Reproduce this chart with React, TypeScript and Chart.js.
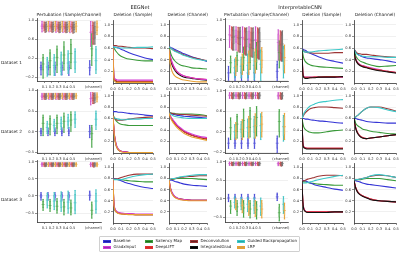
import React, { useEffect, useRef } from 'react';
import { Chart, registerables } from 'chart.js';

Chart.register(...registerables);

const FONT = "'DejaVu Sans', sans-serif";
Chart.defaults.font.family = FONT;

// ---------- categories / methods ----------
const METHODS = ['Baseline', 'GradxInput', 'Saliency Map', 'DeepLIFT', 'Deconvolution', 'IntegratedGrad', 'Guided Backpropagation', 'LRP'];
const LINE_COLORS = ['#3535d5', '#d23ad2', '#3a9a3a', '#e03030', '#9c3535', '#111111', '#3cc8c8', '#e8a030'];
const BOX_EDGE = ['#5050d8', '#cc55cc', '#4aa64a', '#dd5555', '#a05a5a', '#777777', '#44c4c4', '#e6a640'];
const BOX_FILL = ['rgba(170,170,240,0.3)', 'rgba(240,170,230,0.35)', 'rgba(175,225,175,0.35)', 'rgba(245,180,180,0.3)', 'rgba(210,170,170,0.25)', 'rgba(200,200,200,0.15)', 'rgba(175,235,235,0.4)', 'rgba(248,220,165,0.45)'];
const LEGEND_COLORS = ['#1c1ca8', '#9a2fb0', '#1e6e1e', '#d42a2a', '#6b1f1f', '#000000', '#25a5a5', '#caa050'];

const CAT_LABELS = ['0.1', '0.2', '0.3', '0.4', '0.5', '(channel)'];
const EEG_CAT_POS = [1, 2, 3, 4, 5, 8];
const ICNN_CAT_POS = [1, 2, 3, 4, 5, 8.5];

const DEL_X = [0, 0.01, 0.02, 0.04, 0.07, 0.1, 0.15, 0.2, 0.3, 0.4, 0.5];
const DEL_X_TICKS = [0, 0.1, 0.2, 0.3, 0.4, 0.5];
const DEL_Y_TICKS = [0.2, 0.4, 0.6, 0.8, 1.0];

// ---------- deletion curves (method x DEL_X) ----------
const EEG_DEL_SAMPLE_D1 = [
  [0.62, 0.62, 0.61, 0.61, 0.60, 0.58, 0.55, 0.52, 0.47, 0.43, 0.40],
  [0.62, 0.15, 0.08, 0.06, 0.05, 0.05, 0.05, 0.05, 0.05, 0.05, 0.05],
  [0.62, 0.60, 0.58, 0.54, 0.49, 0.46, 0.43, 0.41, 0.39, 0.38, 0.38],
  [0.62, 0.12, 0.06, 0.04, 0.03, 0.03, 0.03, 0.03, 0.03, 0.03, 0.03],
  [0.64, 0.64, 0.64, 0.64, 0.63, 0.63, 0.62, 0.61, 0.60, 0.60, 0.59],
  [0.62, 0.10, 0.05, 0.03, 0.02, 0.02, 0.02, 0.02, 0.02, 0.02, 0.02],
  [0.62, 0.62, 0.61, 0.61, 0.60, 0.60, 0.60, 0.60, 0.61, 0.61, 0.62],
  [0.60, 0.08, 0.03, 0.01, 0.01, 0.01, 0.01, 0.01, 0.01, 0.01, 0.01],
];
const EEG_DEL_CHANNEL_D1 = [
  [0.62, 0.62, 0.61, 0.60, 0.58, 0.56, 0.53, 0.50, 0.45, 0.41, 0.37],
  [0.60, 0.52, 0.45, 0.36, 0.27, 0.21, 0.15, 0.12, 0.09, 0.07, 0.06],
  [0.62, 0.58, 0.52, 0.45, 0.39, 0.35, 0.31, 0.29, 0.26, 0.25, 0.24],
  [0.60, 0.50, 0.43, 0.34, 0.26, 0.20, 0.15, 0.12, 0.09, 0.07, 0.06],
  [0.62, 0.61, 0.60, 0.58, 0.56, 0.54, 0.51, 0.48, 0.44, 0.41, 0.38],
  [0.60, 0.48, 0.40, 0.31, 0.23, 0.18, 0.13, 0.10, 0.08, 0.06, 0.05],
  [0.62, 0.61, 0.60, 0.58, 0.55, 0.53, 0.50, 0.47, 0.43, 0.40, 0.38],
  [0.58, 0.40, 0.30, 0.20, 0.13, 0.10, 0.07, 0.05, 0.03, 0.02, 0.02],
];
const ICNN_DEL_SAMPLE_D1 = [
  [0.58, 0.58, 0.57, 0.56, 0.53, 0.51, 0.48, 0.45, 0.40, 0.37, 0.34],
  [0.58, 0.20, 0.12, 0.10, 0.10, 0.10, 0.10, 0.10, 0.10, 0.10, 0.10],
  [0.58, 0.50, 0.43, 0.37, 0.33, 0.31, 0.29, 0.28, 0.27, 0.26, 0.25],
  [0.58, 0.18, 0.11, 0.09, 0.09, 0.09, 0.10, 0.10, 0.11, 0.11, 0.11],
  [0.58, 0.57, 0.55, 0.53, 0.52, 0.52, 0.51, 0.51, 0.51, 0.52, 0.52],
  [0.58, 0.16, 0.10, 0.08, 0.08, 0.09, 0.09, 0.10, 0.10, 0.10, 0.11],
  [0.58, 0.56, 0.54, 0.53, 0.53, 0.53, 0.54, 0.55, 0.56, 0.57, 0.58],
  [0.58, 0.18, 0.11, 0.10, 0.10, 0.10, 0.10, 0.10, 0.10, 0.10, 0.10],
];
const ICNN_DEL_CHANNEL_D1 = [
  [0.58, 0.56, 0.53, 0.50, 0.47, 0.45, 0.43, 0.42, 0.40, 0.38, 0.35],
  [0.58, 0.48, 0.42, 0.36, 0.32, 0.30, 0.28, 0.26, 0.23, 0.20, 0.18],
  [0.58, 0.52, 0.47, 0.42, 0.38, 0.36, 0.33, 0.31, 0.28, 0.29, 0.30],
  [0.58, 0.47, 0.41, 0.35, 0.31, 0.29, 0.27, 0.25, 0.22, 0.20, 0.18],
  [0.58, 0.56, 0.54, 0.51, 0.50, 0.49, 0.49, 0.48, 0.46, 0.45, 0.44],
  [0.58, 0.46, 0.40, 0.34, 0.30, 0.28, 0.26, 0.24, 0.21, 0.19, 0.17],
  [0.58, 0.55, 0.52, 0.49, 0.47, 0.46, 0.45, 0.45, 0.45, 0.44, 0.44],
  [0.58, 0.47, 0.41, 0.35, 0.31, 0.29, 0.27, 0.25, 0.22, 0.20, 0.18],
];
const EEG_DEL_SAMPLE_D2 = [
  [0.72, 0.72, 0.72, 0.72, 0.71, 0.71, 0.70, 0.69, 0.68, 0.66, 0.65],
  [0.65, 0.45, 0.30, 0.15, 0.06, 0.03, 0.02, 0.01, 0.01, 0.01, 0.01],
  [0.65, 0.63, 0.60, 0.56, 0.52, 0.50, 0.49, 0.48, 0.48, 0.48, 0.48],
  [0.65, 0.44, 0.29, 0.14, 0.06, 0.03, 0.02, 0.01, 0.01, 0.01, 0.01],
  [0.65, 0.63, 0.61, 0.58, 0.57, 0.57, 0.58, 0.59, 0.61, 0.62, 0.63],
  [0.65, 0.43, 0.28, 0.13, 0.05, 0.03, 0.02, 0.01, 0.01, 0.01, 0.01],
  [0.63, 0.62, 0.61, 0.60, 0.59, 0.58, 0.58, 0.59, 0.59, 0.60, 0.60],
  [0.65, 0.42, 0.27, 0.12, 0.05, 0.02, 0.01, 0.01, 0.01, 0.01, 0.01],
];
const EEG_DEL_CHANNEL_D2 = [
  [0.70, 0.70, 0.69, 0.68, 0.67, 0.66, 0.65, 0.64, 0.63, 0.62, 0.61],
  [0.70, 0.67, 0.64, 0.60, 0.55, 0.50, 0.44, 0.39, 0.33, 0.29, 0.27],
  [0.70, 0.70, 0.70, 0.69, 0.69, 0.68, 0.68, 0.68, 0.68, 0.67, 0.65],
  [0.70, 0.66, 0.63, 0.59, 0.53, 0.48, 0.42, 0.37, 0.31, 0.27, 0.25],
  [0.70, 0.70, 0.69, 0.69, 0.68, 0.68, 0.67, 0.67, 0.66, 0.65, 0.64],
  [0.70, 0.66, 0.63, 0.58, 0.53, 0.48, 0.42, 0.37, 0.31, 0.27, 0.24],
  [0.70, 0.69, 0.68, 0.66, 0.64, 0.63, 0.62, 0.61, 0.60, 0.60, 0.60],
  [0.70, 0.65, 0.61, 0.56, 0.50, 0.45, 0.39, 0.34, 0.28, 0.25, 0.22],
];
const ICNN_DEL_SAMPLE_D2 = [
  [0.60, 0.60, 0.60, 0.59, 0.59, 0.58, 0.57, 0.56, 0.55, 0.53, 0.52],
  [0.60, 0.20, 0.12, 0.09, 0.08, 0.08, 0.08, 0.08, 0.08, 0.08, 0.08],
  [0.60, 0.52, 0.46, 0.41, 0.38, 0.36, 0.35, 0.35, 0.37, 0.39, 0.40],
  [0.60, 0.18, 0.11, 0.09, 0.08, 0.08, 0.08, 0.08, 0.08, 0.08, 0.08],
  [0.60, 0.63, 0.66, 0.70, 0.74, 0.77, 0.79, 0.80, 0.80, 0.79, 0.78],
  [0.60, 0.17, 0.10, 0.08, 0.07, 0.07, 0.07, 0.07, 0.07, 0.07, 0.07],
  [0.60, 0.64, 0.68, 0.73, 0.78, 0.82, 0.85, 0.88, 0.90, 0.92, 0.93],
  [0.60, 0.18, 0.11, 0.09, 0.08, 0.08, 0.08, 0.08, 0.08, 0.08, 0.08],
];
const ICNN_DEL_CHANNEL_D2 = [
  [0.62, 0.61, 0.60, 0.59, 0.58, 0.57, 0.55, 0.54, 0.53, 0.52, 0.52],
  [0.62, 0.52, 0.44, 0.36, 0.30, 0.27, 0.25, 0.26, 0.28, 0.30, 0.32],
  [0.62, 0.57, 0.52, 0.48, 0.45, 0.42, 0.40, 0.38, 0.36, 0.34, 0.33],
  [0.62, 0.52, 0.44, 0.36, 0.30, 0.27, 0.25, 0.26, 0.28, 0.30, 0.32],
  [0.62, 0.62, 0.63, 0.65, 0.69, 0.73, 0.78, 0.80, 0.80, 0.77, 0.73],
  [0.62, 0.51, 0.43, 0.35, 0.29, 0.26, 0.25, 0.26, 0.28, 0.30, 0.32],
  [0.62, 0.62, 0.63, 0.65, 0.69, 0.73, 0.78, 0.80, 0.79, 0.75, 0.72],
  [0.62, 0.52, 0.44, 0.36, 0.30, 0.27, 0.25, 0.26, 0.28, 0.30, 0.32],
];
const EEG_DEL_SAMPLE_D3 = [
  [0.80, 0.80, 0.79, 0.79, 0.78, 0.76, 0.73, 0.71, 0.67, 0.64, 0.62],
  [0.80, 0.40, 0.28, 0.22, 0.19, 0.18, 0.17, 0.17, 0.16, 0.16, 0.16],
  [0.80, 0.80, 0.79, 0.79, 0.78, 0.78, 0.77, 0.76, 0.75, 0.74, 0.74],
  [0.80, 0.38, 0.27, 0.21, 0.18, 0.17, 0.16, 0.16, 0.15, 0.15, 0.15],
  [0.78, 0.78, 0.79, 0.79, 0.80, 0.82, 0.84, 0.86, 0.88, 0.88, 0.88],
  [0.80, 0.37, 0.26, 0.20, 0.18, 0.17, 0.16, 0.16, 0.15, 0.15, 0.15],
  [0.78, 0.78, 0.78, 0.78, 0.78, 0.78, 0.80, 0.82, 0.85, 0.87, 0.88],
  [0.80, 0.36, 0.25, 0.20, 0.17, 0.16, 0.16, 0.15, 0.15, 0.15, 0.15],
];
const EEG_DEL_CHANNEL_D3 = [
  [0.78, 0.78, 0.77, 0.77, 0.75, 0.74, 0.72, 0.70, 0.68, 0.67, 0.66],
  [0.78, 0.70, 0.63, 0.55, 0.49, 0.46, 0.43, 0.42, 0.41, 0.41, 0.41],
  [0.78, 0.78, 0.78, 0.79, 0.79, 0.80, 0.80, 0.80, 0.80, 0.79, 0.78],
  [0.78, 0.70, 0.62, 0.54, 0.48, 0.45, 0.43, 0.42, 0.41, 0.41, 0.41],
  [0.78, 0.78, 0.79, 0.79, 0.80, 0.81, 0.82, 0.83, 0.84, 0.85, 0.85],
  [0.78, 0.69, 0.62, 0.54, 0.48, 0.45, 0.43, 0.42, 0.41, 0.41, 0.41],
  [0.78, 0.78, 0.79, 0.80, 0.80, 0.81, 0.83, 0.84, 0.86, 0.87, 0.87],
  [0.78, 0.68, 0.60, 0.52, 0.47, 0.44, 0.42, 0.41, 0.40, 0.40, 0.40],
];
const ICNN_DEL_SAMPLE_D3 = [
  [0.77, 0.77, 0.76, 0.76, 0.74, 0.72, 0.69, 0.67, 0.64, 0.61, 0.59],
  [0.75, 0.40, 0.28, 0.22, 0.20, 0.20, 0.20, 0.20, 0.20, 0.20, 0.20],
  [0.75, 0.75, 0.74, 0.74, 0.73, 0.72, 0.71, 0.70, 0.69, 0.68, 0.68],
  [0.75, 0.39, 0.27, 0.21, 0.20, 0.20, 0.20, 0.20, 0.20, 0.20, 0.20],
  [0.75, 0.76, 0.76, 0.77, 0.79, 0.80, 0.82, 0.84, 0.86, 0.86, 0.85],
  [0.75, 0.38, 0.26, 0.21, 0.19, 0.19, 0.19, 0.19, 0.19, 0.20, 0.20],
  [0.72, 0.72, 0.72, 0.72, 0.73, 0.74, 0.76, 0.78, 0.81, 0.84, 0.86],
  [0.75, 0.39, 0.27, 0.21, 0.20, 0.20, 0.20, 0.20, 0.20, 0.20, 0.20],
];
const ICNN_DEL_CHANNEL_D3 = [
  [0.77, 0.77, 0.76, 0.75, 0.74, 0.72, 0.70, 0.69, 0.67, 0.65, 0.63],
  [0.77, 0.70, 0.64, 0.57, 0.52, 0.49, 0.46, 0.43, 0.40, 0.39, 0.38],
  [0.77, 0.77, 0.77, 0.78, 0.78, 0.79, 0.80, 0.80, 0.80, 0.78, 0.76],
  [0.77, 0.70, 0.64, 0.57, 0.52, 0.49, 0.46, 0.43, 0.40, 0.39, 0.38],
  [0.77, 0.77, 0.78, 0.78, 0.79, 0.80, 0.82, 0.84, 0.86, 0.85, 0.82],
  [0.77, 0.69, 0.63, 0.56, 0.51, 0.48, 0.45, 0.42, 0.40, 0.39, 0.38],
  [0.77, 0.77, 0.78, 0.78, 0.79, 0.80, 0.82, 0.85, 0.87, 0.85, 0.82],
  [0.77, 0.70, 0.64, 0.57, 0.52, 0.49, 0.46, 0.43, 0.40, 0.39, 0.38],
];

// ---------- perturbation box stats: method x category x [lo, q1, median, q3, hi] ----------
const EEG_BOX_D1 = [
  [[-0.15, -0.05, 0, 0.05, 0.12], [-0.15, -0.05, 0, 0.05, 0.12], [-0.16, -0.05, 0, 0.05, 0.12], [-0.15, -0.06, 0, 0.05, 0.12], [-0.16, -0.05, 0, 0.06, 0.13], [-0.15, -0.06, 0, 0.08, 0.15]],
  [[0.76, 0.82, 0.88, 0.93, 0.98], [0.76, 0.82, 0.88, 0.93, 0.98], [0.75, 0.81, 0.87, 0.93, 0.98], [0.75, 0.81, 0.87, 0.93, 0.98], [0.74, 0.8, 0.87, 0.93, 0.98], [0.45, 0.6, 0.75, 0.9, 0.98]],
  [[-0.22, -0.05, 0.08, 0.22, 0.28], [-0.15, 0, 0.15, 0.32, 0.38], [-0.1, 0.05, 0.22, 0.4, 0.46], [-0.05, 0.08, 0.27, 0.45, 0.55], [-0.02, 0.1, 0.3, 0.5, 0.6], [0.05, 0.25, 0.4, 0.55, 0.72]],
  [[0.78, 0.83, 0.88, 0.93, 0.97], [0.77, 0.83, 0.88, 0.93, 0.97], [0.77, 0.82, 0.88, 0.93, 0.97], [0.76, 0.82, 0.87, 0.93, 0.97], [0.76, 0.82, 0.87, 0.93, 0.97], [0.5, 0.62, 0.76, 0.9, 0.97]],
  [[0.75, 0.8, 0.86, 0.91, 0.96], [0.75, 0.8, 0.86, 0.91, 0.96], [0.74, 0.8, 0.85, 0.91, 0.96], [0.74, 0.79, 0.85, 0.91, 0.96], [0.73, 0.79, 0.85, 0.91, 0.96], [0.5, 0.6, 0.72, 0.85, 0.95]],
  [[0.76, 0.81, 0.87, 0.92, 0.97], [0.76, 0.81, 0.87, 0.92, 0.97], [0.75, 0.81, 0.86, 0.92, 0.97], [0.75, 0.8, 0.86, 0.92, 0.97], [0.74, 0.8, 0.86, 0.92, 0.97], [0.5, 0.62, 0.75, 0.88, 0.97]],
  [[-0.18, -0.12, 0.02, 0.18, 0.22], [-0.16, -0.1, 0.05, 0.22, 0.28], [-0.15, -0.08, 0.08, 0.28, 0.33], [-0.12, -0.05, 0.1, 0.3, 0.36], [-0.1, -0.03, 0.12, 0.35, 0.4], [-0.12, -0.05, 0.15, 0.4, 0.45]],
  [[0.78, 0.82, 0.88, 0.94, 0.98], [0.78, 0.82, 0.88, 0.94, 0.98], [0.77, 0.82, 0.88, 0.94, 0.98], [0.77, 0.82, 0.88, 0.94, 0.98], [0.76, 0.81, 0.88, 0.94, 0.98], [0.7, 0.78, 0.86, 0.95, 0.99]],
];
const ICNN_BOX_D1 = [
  [[-0.2, -0.14, -0.05, 0.03, 0.08], [-0.2, -0.14, -0.05, 0.03, 0.08], [-0.2, -0.15, -0.05, 0.04, 0.09], [-0.2, -0.15, -0.05, 0.04, 0.09], [-0.2, -0.15, -0.05, 0.05, 0.1], [-0.2, -0.15, -0.02, 0.12, 0.18]],
  [[0.45, 0.58, 0.7, 0.82, 0.88], [0.4, 0.55, 0.68, 0.8, 0.86], [0.35, 0.5, 0.65, 0.8, 0.86], [0.3, 0.45, 0.62, 0.78, 0.86], [0.25, 0.42, 0.6, 0.78, 0.86], [0.2, 0.38, 0.55, 0.72, 0.8]],
  [[-0.05, 0.05, 0.15, 0.24, 0.28], [-0.02, 0.1, 0.2, 0.3, 0.36], [0, 0.12, 0.25, 0.4, 0.46], [0.02, 0.15, 0.28, 0.45, 0.52], [0.02, 0.15, 0.3, 0.48, 0.55], [0.05, 0.2, 0.35, 0.5, 0.58]],
  [[0.42, 0.55, 0.68, 0.8, 0.86], [0.38, 0.52, 0.65, 0.78, 0.85], [0.32, 0.48, 0.62, 0.77, 0.84], [0.28, 0.44, 0.6, 0.76, 0.84], [0.24, 0.4, 0.58, 0.75, 0.84], [0.2, 0.35, 0.52, 0.7, 0.78]],
  [[0.4, 0.52, 0.65, 0.78, 0.85], [0.36, 0.5, 0.63, 0.76, 0.84], [0.3, 0.46, 0.6, 0.75, 0.83], [0.26, 0.42, 0.58, 0.74, 0.83], [0.22, 0.38, 0.56, 0.73, 0.82], [0.18, 0.33, 0.5, 0.68, 0.76]],
  [[0.4, 0.52, 0.66, 0.8, 0.86], [0.36, 0.5, 0.64, 0.78, 0.85], [0.3, 0.46, 0.61, 0.77, 0.84], [0.26, 0.42, 0.59, 0.76, 0.84], [0.22, 0.38, 0.57, 0.75, 0.84], [0.18, 0.34, 0.52, 0.7, 0.78]],
  [[-0.15, -0.05, 0.05, 0.18, 0.22], [-0.15, -0.05, 0.08, 0.22, 0.26], [-0.15, -0.05, 0.1, 0.28, 0.32], [-0.18, -0.05, 0.1, 0.3, 0.36], [-0.2, -0.05, 0.12, 0.35, 0.4], [-0.15, 0, 0.18, 0.42, 0.48]],
  [[-0.1, 0, 0.08, 0.18, 0.25], [-0.08, 0.02, 0.12, 0.25, 0.32], [-0.08, 0.02, 0.15, 0.3, 0.38], [-0.05, 0.05, 0.18, 0.35, 0.42], [-0.05, 0.05, 0.2, 0.38, 0.45], [-0.05, 0.1, 0.25, 0.42, 0.5]],
];
const EEG_BOX_D2 = [
  [[-0.1, -0.05, 0, 0.04, 0.08], [-0.1, -0.05, 0, 0.04, 0.08], [-0.1, -0.05, 0, 0.05, 0.09], [-0.1, -0.05, 0, 0.05, 0.09], [-0.1, -0.05, 0.01, 0.05, 0.1], [-0.15, -0.08, 0, 0.1, 0.15]],
  [[0.78, 0.82, 0.86, 0.9, 0.93], [0.78, 0.82, 0.86, 0.9, 0.93], [0.78, 0.82, 0.86, 0.9, 0.93], [0.78, 0.82, 0.86, 0.9, 0.93], [0.78, 0.82, 0.86, 0.9, 0.93], [0.65, 0.72, 0.8, 0.9, 0.95]],
  [[-0.1, 0.05, 0.2, 0.35, 0.4], [-0.08, 0.05, 0.18, 0.32, 0.38], [-0.05, 0.08, 0.2, 0.35, 0.4], [-0.02, 0.1, 0.25, 0.38, 0.45], [0, 0.15, 0.28, 0.42, 0.48], [-0.38, -0.2, -0.05, 0.1, 0.15]],
  [[0.79, 0.83, 0.86, 0.9, 0.93], [0.79, 0.83, 0.86, 0.9, 0.93], [0.79, 0.83, 0.86, 0.9, 0.93], [0.79, 0.83, 0.86, 0.9, 0.93], [0.79, 0.83, 0.86, 0.9, 0.93], [0.68, 0.75, 0.82, 0.9, 0.95]],
  [[0.78, 0.82, 0.86, 0.89, 0.92], [0.78, 0.82, 0.86, 0.89, 0.92], [0.78, 0.82, 0.86, 0.89, 0.92], [0.78, 0.82, 0.86, 0.89, 0.92], [0.78, 0.82, 0.86, 0.89, 0.92], [0.68, 0.74, 0.8, 0.88, 0.93]],
  [[0.79, 0.83, 0.86, 0.9, 0.93], [0.79, 0.83, 0.86, 0.9, 0.93], [0.79, 0.83, 0.86, 0.9, 0.93], [0.79, 0.83, 0.86, 0.9, 0.93], [0.79, 0.83, 0.86, 0.9, 0.93], [0.7, 0.76, 0.82, 0.9, 0.94]],
  [[-0.05, 0.02, 0.1, 0.2, 0.25], [0, 0.08, 0.15, 0.25, 0.3], [0.05, 0.12, 0.2, 0.3, 0.35], [0.08, 0.15, 0.25, 0.35, 0.42], [0.1, 0.2, 0.3, 0.42, 0.48], [0.05, 0.15, 0.3, 0.45, 0.5]],
  [[0.8, 0.83, 0.87, 0.9, 0.93], [0.8, 0.83, 0.87, 0.9, 0.93], [0.8, 0.83, 0.87, 0.9, 0.93], [0.8, 0.83, 0.87, 0.9, 0.93], [0.8, 0.83, 0.87, 0.9, 0.93], [0.72, 0.78, 0.84, 0.9, 0.94]],
];
const ICNN_BOX_D2 = [
  [[-0.12, -0.08, -0.02, 0.05, 0.08], [-0.12, -0.08, -0.02, 0.05, 0.08], [-0.12, -0.08, -0.02, 0.05, 0.08], [-0.12, -0.08, -0.02, 0.05, 0.08], [-0.12, -0.08, -0.02, 0.05, 0.08], [-0.2, -0.12, -0.02, 0.08, 0.12]],
  [[0.85, 0.88, 0.91, 0.94, 0.96], [0.85, 0.88, 0.91, 0.94, 0.96], [0.85, 0.88, 0.91, 0.94, 0.96], [0.85, 0.88, 0.91, 0.94, 0.96], [0.85, 0.88, 0.91, 0.94, 0.96], [0.84, 0.87, 0.9, 0.94, 0.96]],
  [[0.05, 0.15, 0.28, 0.42, 0.47], [0.08, 0.2, 0.35, 0.5, 0.54], [0.1, 0.25, 0.42, 0.6, 0.64], [0.1, 0.28, 0.45, 0.62, 0.67], [0.12, 0.3, 0.48, 0.65, 0.69], [0.1, 0.2, 0.4, 0.6, 0.63]],
  [[0.85, 0.88, 0.91, 0.94, 0.96], [0.85, 0.88, 0.91, 0.94, 0.96], [0.85, 0.88, 0.91, 0.94, 0.96], [0.85, 0.88, 0.91, 0.94, 0.96], [0.85, 0.88, 0.91, 0.94, 0.96], [0.84, 0.87, 0.9, 0.94, 0.96]],
  [[0.84, 0.87, 0.9, 0.93, 0.95], [0.84, 0.87, 0.9, 0.93, 0.95], [0.84, 0.87, 0.9, 0.93, 0.95], [0.84, 0.87, 0.9, 0.93, 0.95], [0.84, 0.87, 0.9, 0.93, 0.95], [0.83, 0.86, 0.9, 0.93, 0.95]],
  [[0.85, 0.88, 0.91, 0.94, 0.96], [0.85, 0.88, 0.91, 0.94, 0.96], [0.85, 0.88, 0.91, 0.94, 0.96], [0.85, 0.88, 0.91, 0.94, 0.96], [0.85, 0.88, 0.91, 0.94, 0.96], [0.84, 0.87, 0.9, 0.94, 0.96]],
  [[0.08, 0.14, 0.2, 0.3, 0.34], [0.1, 0.18, 0.25, 0.35, 0.4], [0.1, 0.18, 0.28, 0.4, 0.45], [0.08, 0.18, 0.3, 0.45, 0.5], [0.05, 0.18, 0.32, 0.5, 0.55], [0.02, 0.12, 0.3, 0.48, 0.52]],
  [[0.05, 0.12, 0.22, 0.32, 0.38], [0.05, 0.15, 0.25, 0.38, 0.44], [0.08, 0.18, 0.3, 0.45, 0.5], [0.08, 0.2, 0.32, 0.48, 0.55], [0.1, 0.2, 0.35, 0.5, 0.58], [0.05, 0.15, 0.3, 0.5, 0.56]],
];
const EEG_BOX_D3 = [
  [[-0.12, -0.06, 0, 0.06, 0.1], [-0.12, -0.06, 0, 0.06, 0.1], [-0.12, -0.06, 0, 0.06, 0.1], [-0.12, -0.06, 0, 0.06, 0.1], [-0.12, -0.06, 0, 0.06, 0.1], [-0.12, -0.05, 0.02, 0.1, 0.14]],
  [[0.86, 0.89, 0.92, 0.95, 0.97], [0.86, 0.89, 0.92, 0.95, 0.97], [0.86, 0.89, 0.92, 0.95, 0.97], [0.86, 0.89, 0.92, 0.95, 0.97], [0.86, 0.89, 0.92, 0.95, 0.97], [0.85, 0.88, 0.92, 0.95, 0.97]],
  [[-0.42, -0.35, -0.25, -0.15, -0.1], [-0.45, -0.38, -0.28, -0.15, -0.1], [-0.5, -0.42, -0.3, -0.15, -0.08], [-0.55, -0.45, -0.32, -0.18, -0.1], [-0.55, -0.48, -0.35, -0.2, -0.12], [-0.65, -0.55, -0.42, -0.25, -0.18]],
  [[0.86, 0.89, 0.92, 0.95, 0.97], [0.86, 0.89, 0.92, 0.95, 0.97], [0.86, 0.89, 0.92, 0.95, 0.97], [0.86, 0.89, 0.92, 0.95, 0.97], [0.86, 0.89, 0.92, 0.95, 0.97], [0.85, 0.88, 0.92, 0.95, 0.97]],
  [[0.85, 0.88, 0.91, 0.94, 0.96], [0.85, 0.88, 0.91, 0.94, 0.96], [0.85, 0.88, 0.91, 0.94, 0.96], [0.85, 0.88, 0.91, 0.94, 0.96], [0.85, 0.88, 0.91, 0.94, 0.96], [0.84, 0.87, 0.91, 0.94, 0.96]],
  [[0.86, 0.89, 0.92, 0.95, 0.97], [0.86, 0.89, 0.92, 0.95, 0.97], [0.86, 0.89, 0.92, 0.95, 0.97], [0.86, 0.89, 0.92, 0.95, 0.97], [0.86, 0.89, 0.92, 0.95, 0.97], [0.85, 0.88, 0.92, 0.95, 0.97]],
  [[-0.35, -0.28, -0.12, 0.02, 0.08], [-0.4, -0.32, -0.15, 0.02, 0.1], [-0.45, -0.35, -0.15, 0.03, 0.12], [-0.5, -0.38, -0.18, 0.03, 0.14], [-0.52, -0.42, -0.2, 0.05, 0.16], [-0.5, -0.4, -0.15, 0.08, 0.18]],
  [[0.86, 0.89, 0.92, 0.95, 0.97], [0.86, 0.89, 0.92, 0.95, 0.97], [0.86, 0.89, 0.92, 0.95, 0.97], [0.86, 0.89, 0.92, 0.95, 0.97], [0.86, 0.89, 0.92, 0.95, 0.97], [0.85, 0.88, 0.92, 0.95, 0.97]],
];
const ICNN_BOX_D3 = [
  [[-0.08, -0.03, 0.02, 0.08, 0.12], [-0.08, -0.03, 0.02, 0.08, 0.12], [-0.08, -0.03, 0.02, 0.08, 0.12], [-0.08, -0.03, 0.02, 0.08, 0.12], [-0.08, -0.03, 0.02, 0.08, 0.12], [-0.05, 0, 0.05, 0.12, 0.15]],
  [[0.9, 0.93, 0.95, 0.97, 0.99], [0.9, 0.93, 0.95, 0.97, 0.99], [0.9, 0.93, 0.95, 0.97, 0.99], [0.9, 0.93, 0.95, 0.97, 0.99], [0.9, 0.93, 0.95, 0.97, 0.99], [0.89, 0.92, 0.95, 0.97, 0.99]],
  [[-0.4, -0.3, -0.2, -0.1, -0.05], [-0.45, -0.35, -0.22, -0.12, -0.05], [-0.5, -0.4, -0.25, -0.12, -0.05], [-0.52, -0.42, -0.28, -0.12, -0.05], [-0.55, -0.45, -0.3, -0.15, -0.08], [-0.6, -0.5, -0.38, -0.22, -0.15]],
  [[0.9, 0.93, 0.95, 0.97, 0.99], [0.9, 0.93, 0.95, 0.97, 0.99], [0.9, 0.93, 0.95, 0.97, 0.99], [0.9, 0.93, 0.95, 0.97, 0.99], [0.9, 0.93, 0.95, 0.97, 0.99], [0.89, 0.92, 0.95, 0.97, 0.99]],
  [[0.89, 0.92, 0.94, 0.96, 0.98], [0.89, 0.92, 0.94, 0.96, 0.98], [0.89, 0.92, 0.94, 0.96, 0.98], [0.89, 0.92, 0.94, 0.96, 0.98], [0.89, 0.92, 0.94, 0.96, 0.98], [0.88, 0.91, 0.94, 0.96, 0.98]],
  [[0.9, 0.93, 0.95, 0.97, 0.99], [0.9, 0.93, 0.95, 0.97, 0.99], [0.9, 0.93, 0.95, 0.97, 0.99], [0.9, 0.93, 0.95, 0.97, 0.99], [0.9, 0.93, 0.95, 0.97, 0.99], [0.89, 0.92, 0.95, 0.97, 0.99]],
  [[-0.25, -0.18, -0.1, 0, 0.05], [-0.3, -0.22, -0.12, -0.02, 0.03], [-0.35, -0.28, -0.15, -0.03, 0.03], [-0.4, -0.32, -0.18, -0.05, 0.02], [-0.45, -0.38, -0.2, -0.05, 0.02], [-0.4, -0.32, -0.15, 0, 0.06]],
  [[-0.3, -0.22, -0.15, -0.05, 0], [-0.38, -0.28, -0.18, -0.08, -0.02], [-0.45, -0.35, -0.22, -0.1, -0.05], [-0.48, -0.38, -0.25, -0.12, -0.05], [-0.52, -0.42, -0.28, -0.12, -0.05], [-0.55, -0.45, -0.32, -0.2, -0.12]],
];

// ---------- layout constants ----------
const AXW = 14;
const AXH = 9;
const PADT = 4;
const PADR = 5;
const TICK_FONT = { family: FONT, size: 3.6 };
const COLS = [[37, 101], [113, 153], [169, 206.5], [225, 288], [301.5, 342], [354, 396]];
const ROW_BOX = [[18, 81], [89, 153], [160, 222]];
const ROW_DEL = [[20, 82.5], [91, 152.5], [163, 222.5]];
const EEG_BOX_RANGE = [[-0.28, 1.04], [-0.52, 1.02], [-0.76, 1.03]];
const ICNN_BOX_RANGE = [[-0.21, 1.02], [-0.21, 1.02], [-0.63, 1.03]];
const EEG_BOX_YTICKS = [[-0.2, 0.2, 0.6, 1.0], [-0.5, 0, 0.5, 1.0], [-0.5, 0, 0.5, 1.0]];
const ICNN_BOX_YTICKS = [[-0.2, 0.2, 0.6, 1.0], [-0.2, 0.2, 0.6, 1.0], [-0.5, 0, 0.5, 1.0]];
const EEG_Z = [5, 3, 4, 2, 6, 1, 7, 8];
const ICNN_Z = [5, 2, 4, 3, 6, 8, 7, 1];

function fmt(v: number) {
  const s = Math.abs(v).toFixed(1);
  return v < -1e-9 ? '\u2212' + s : s;
}

function yScale(min: number, max: number, ticks: number[]) {
  return {
    type: 'linear', min, max,
    afterBuildTicks: (s: any) => { s.ticks = ticks.map((v) => ({ value: v })); },
    afterFit: (s: any) => { s.width = AXW; },
    ticks: { font: TICK_FONT, color: '#333', padding: 1, autoSkip: false, callback: (v: any) => fmt(Number(v)) },
    grid: { color: '#e6e6e6', lineWidth: 0.6, tickLength: 2, tickColor: '#444', tickWidth: 0.6 },
    border: { display: true, color: '#333', width: 0.8 },
  };
}

function xScale(min: number, max: number, ticks: number[], labels?: string[]) {
  return {
    type: 'linear', min, max, offset: false,
    afterBuildTicks: (s: any) => { s.ticks = ticks.map((v) => ({ value: v })); },
    afterFit: (s: any) => { s.height = AXH; },
    ticks: {
      font: TICK_FONT, color: '#333', padding: 1.5, autoSkip: false, maxRotation: 0, minRotation: 0,
      callback: (v: any, i: number) => (labels ? labels[i] : fmt(Number(v))),
    },
    grid: { display: true, drawOnChartArea: false, offset: false, tickLength: 2, color: '#444', tickColor: '#444', lineWidth: 0.6 },
    border: { display: true, color: '#333', width: 0.8 },
  };
}

function baseOptions() {
  return {
    responsive: false,
    maintainAspectRatio: false,
    animation: false,
    devicePixelRatio: 1,
    events: [],
    layout: { padding: { top: PADT, right: PADR, left: 0, bottom: 0 } },
    plugins: { legend: { display: false }, tooltip: { enabled: false }, title: { display: false } },
  };
}

function lineConfig(series: number[][], z: number[]) {
  return {
    type: 'line',
    data: {
      datasets: series.map((ys, i) => ({
        label: METHODS[i],
        data: DEL_X.map((x, k) => ({ x, y: ys[k] })),
        borderColor: LINE_COLORS[i],
        backgroundColor: LINE_COLORS[i],
        borderWidth: 1.1,
        pointRadius: 0,
        fill: false,
        cubicInterpolationMode: 'monotone',
        order: 10 - z[i],
      })),
    },
    options: {
      ...baseOptions(),
      scales: { x: xScale(0, 0.5, DEL_X_TICKS), y: yScale(0, 1.08, DEL_Y_TICKS) },
    },
  };
}

function boxConfig(data: number[][][], pos: number[], xMin: number, xMax: number, step: number, yr: number[], yt: number[]) {
  const datasets: any[] = [];
  const scales: any = {
    x: xScale(xMin, xMax, pos, CAT_LABELS),
    y: yScale(yr[0], yr[1], yt),
  };
  data.forEach((method, i) => {
    const off = (i - 3.5) * step;
    const axisId = 'xm' + i;
    scales[axisId] = {
      type: 'linear', display: false, min: xMin, max: xMax, offset: false,
      afterBuildTicks: (s: any) => { s.ticks = pos.map((v) => ({ value: v })); },
    };
    const base = (8 - i) * 4;
    datasets.push({
      type: 'bar', xAxisID: axisId, yAxisID: 'y',
      data: method.map((s, j) => ({ x: pos[j] + off, y: [s[0], s[4]] })),
      backgroundColor: BOX_EDGE[i], borderWidth: 0, grouped: false, barThickness: 1, maxBarThickness: 0.5,
      order: base + 2,
    });
    datasets.push({
      type: 'bar', xAxisID: axisId, yAxisID: 'y',
      data: method.map((s, j) => ({ x: pos[j] + off, y: [s[1], s[3]] })),
      backgroundColor: BOX_FILL[i], borderColor: BOX_EDGE[i], borderWidth: 0.5, borderSkipped: false,
      grouped: false, barThickness: 1, maxBarThickness: 3,
      order: base + 1,
    });
    datasets.push({
      type: 'scatter', xAxisID: 'x', yAxisID: 'y',
      data: method.map((s, j) => ({ x: pos[j] + off, y: s[2] })),
      pointStyle: 'line', pointRadius: 1.5, pointBorderColor: BOX_EDGE[i], pointBorderWidth: 0.6,
      order: base,
    });
    datasets.push({
      type: 'scatter', xAxisID: 'x', yAxisID: 'y',
      data: method.flatMap((s, j) => [{ x: pos[j] + off, y: s[0] }, { x: pos[j] + off, y: s[4] }]),
      pointStyle: 'line', pointRadius: 0.8, pointBorderColor: BOX_EDGE[i], pointBorderWidth: 0.5,
      order: base,
    });
  });
  return {
    type: 'bar',
    data: { datasets },
    options: { ...baseOptions(), scales },
  };
}

function Panel({ l, r, t, b, make }: { l: number; r: number; t: number; b: number; make: () => any }) {
  const ref = useRef<HTMLCanvasElement>(null);
  const w = Math.round(r - l + AXW + PADR);
  const h = Math.round(b - t + PADT + AXH);
  useEffect(() => {
    const chart = new Chart(ref.current as HTMLCanvasElement, make());
    return () => chart.destroy();
  }, []);
  return (
    <canvas
      ref={ref}
      width={w}
      height={h}
      style={{ position: 'absolute', left: l - AXW, top: t - PADT, width: w, height: h }}
    />
  );
}

function Text({ x, y, size, children, align = 'center' }: any) {
  const style: any = {
    position: 'absolute', top: y - size / 2, fontSize: size, lineHeight: `${size}px`,
    fontFamily: FONT, color: '#222', whiteSpace: 'nowrap',
  };
  style.left = x;
  if (align === 'center') style.transform = 'translateX(-50%)';
  return <div style={style}>{children}</div>;
}

const EEG_BOX = [EEG_BOX_D1, EEG_BOX_D2, EEG_BOX_D3];
const ICNN_BOX = [ICNN_BOX_D1, ICNN_BOX_D2, ICNN_BOX_D3];
const EEG_DEL_S = [EEG_DEL_SAMPLE_D1, EEG_DEL_SAMPLE_D2, EEG_DEL_SAMPLE_D3];
const EEG_DEL_C = [EEG_DEL_CHANNEL_D1, EEG_DEL_CHANNEL_D2, EEG_DEL_CHANNEL_D3];
const ICNN_DEL_S = [ICNN_DEL_SAMPLE_D1, ICNN_DEL_SAMPLE_D2, ICNN_DEL_SAMPLE_D3];
const ICNN_DEL_C = [ICNN_DEL_CHANNEL_D1, ICNN_DEL_CHANNEL_D2, ICNN_DEL_CHANNEL_D3];

const SUBTITLES = ['Pertubation (Sample/Channel)', 'Deletion (Sample)', 'Deletion (Channel)'];
const ROW_LABELS = ['Dataset 1', 'Dataset 2', 'Dataset 3'];
const ROW_LABEL_Y = [63, 132, 200];
const LEGEND_GRID = [[0, 2, 4, 6], [1, 3, 5, 7]];
const LEGEND_COL_X = [103, 145, 190, 237];
const LEGEND_ROW_Y = [241, 247];

export default function App() {
  useEffect(() => { document.body.style.margin = '0'; }, []);
  const panels: any[] = [];
  [0, 1, 2].forEach((row) => {
    panels.push({ key: `eb${row}`, l: COLS[0][0], r: COLS[0][1], t: ROW_BOX[row][0], b: ROW_BOX[row][1],
      make: () => boxConfig(EEG_BOX[row], EEG_CAT_POS, -0.1, 9.1, 0.15, EEG_BOX_RANGE[row], EEG_BOX_YTICKS[row]) });
    panels.push({ key: `es${row}`, l: COLS[1][0], r: COLS[1][1], t: ROW_DEL[row][0], b: ROW_DEL[row][1],
      make: () => lineConfig(EEG_DEL_S[row], EEG_Z) });
    panels.push({ key: `ec${row}`, l: COLS[2][0], r: COLS[2][1], t: ROW_DEL[row][0], b: ROW_DEL[row][1],
      make: () => lineConfig(EEG_DEL_C[row], EEG_Z) });
    panels.push({ key: `ib${row}`, l: COLS[3][0], r: COLS[3][1], t: ROW_BOX[row][0], b: ROW_BOX[row][1],
      make: () => boxConfig(ICNN_BOX[row], ICNN_CAT_POS, -0.1, 9.6, 0.16, ICNN_BOX_RANGE[row], ICNN_BOX_YTICKS[row]) });
    panels.push({ key: `is${row}`, l: COLS[4][0], r: COLS[4][1], t: ROW_DEL[row][0], b: ROW_DEL[row][1],
      make: () => lineConfig(ICNN_DEL_S[row], ICNN_Z) });
    panels.push({ key: `ic${row}`, l: COLS[5][0], r: COLS[5][1], t: ROW_DEL[row][0], b: ROW_DEL[row][1],
      make: () => lineConfig(ICNN_DEL_C[row], ICNN_Z) });
  });

  return (
    <div style={{ position: 'fixed', left: 0, top: 0, width: 400, height: 253, background: '#fff', overflow: 'hidden' }}>
      {panels.map((p) => (
        <Panel key={p.key} l={p.l} r={p.r} t={p.t} b={p.b} make={p.make} />
      ))}
      <Text x={140} y={7} size={5}>EEGNet</Text>
      <Text x={300} y={7} size={5}>InterpretableCNN</Text>
      {COLS.map((c, i) => (
        <Text key={'st' + i} x={(c[0] + c[1]) / 2} y={15} size={4.3}>{SUBTITLES[i % 3]}</Text>
      ))}
      {ROW_LABELS.map((s, i) => (
        <Text key={'rl' + i} x={1} y={ROW_LABEL_Y[i]} size={4.3} align="left">{s}</Text>
      ))}
      <div style={{ position: 'absolute', left: 99, top: 236, width: 201, height: 16, border: '0.5px solid #d0d0d0', borderRadius: 1, boxSizing: 'border-box' }} />
      {LEGEND_GRID.map((row, ri) =>
        row.map((mi, ci) => (
          <React.Fragment key={`lg${ri}-${ci}`}>
            <div style={{ position: 'absolute', left: LEGEND_COL_X[ci], top: LEGEND_ROW_Y[ri] - 1.5, width: 8, height: 3, background: LEGEND_COLORS[mi], border: `0.5px solid ${LINE_COLORS[mi]}`, boxSizing: 'border-box' }} />
            <Text x={LEGEND_COL_X[ci] + 10.5} y={LEGEND_ROW_Y[ri]} size={4} align="left">{METHODS[mi]}</Text>
          </React.Fragment>
        ))
      )}
    </div>
  );
}
